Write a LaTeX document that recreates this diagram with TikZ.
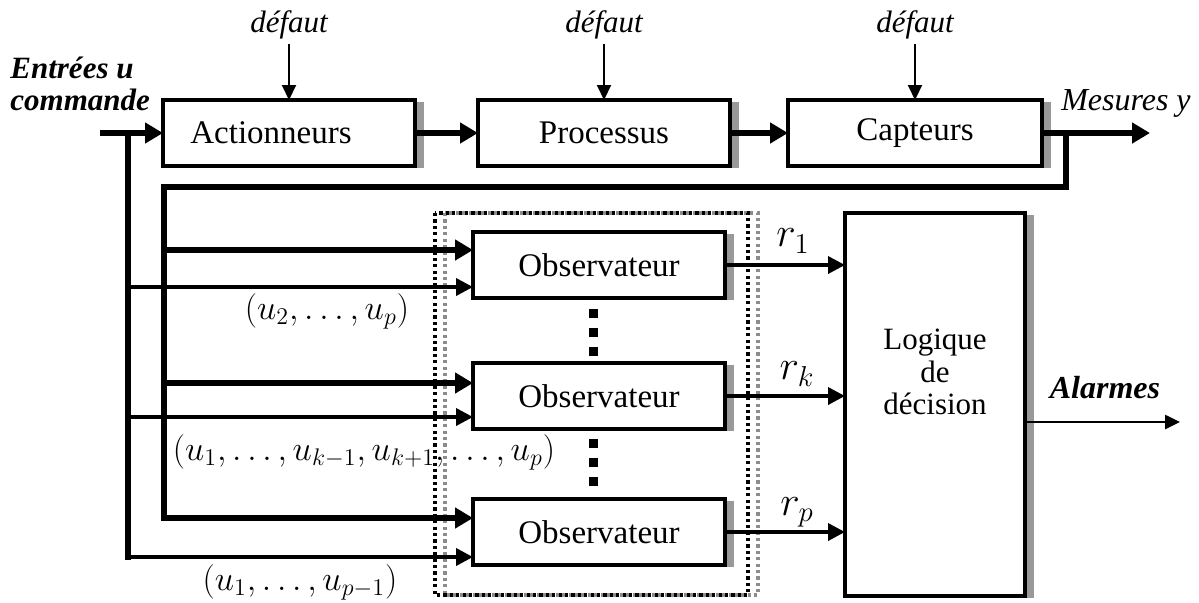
\documentclass[tikz,border=0pt]{standalone}
\usepackage{fontspec}
\setmainfont{Liberation Serif}
\usetikzlibrary{arrows.meta,calc}
\begin{document}
\begin{tikzpicture}[x=0.5pt,y=-0.5pt,
  box/.style={draw,fill=white,line width=1.8pt,minimum width=126pt,minimum height=33pt,inner sep=0pt,outer sep=0pt,font=\fontsize{16.5}{19}\selectfont},
  shadowc/.style={fill=black!40},
  arrbig/.style={line width=3.2pt,-{Triangle[length=9pt,width=10pt]}},
  busline/.style={line width=3.2pt,line cap=rect,line join=miter},
  arrmid/.style={line width=1.8pt,-{Triangle[length=8.5pt,width=8.5pt]}},
  arrthin/.style={line width=1pt,-{Triangle[length=7.5pt,width=7pt]}},
  itlbl/.style={font=\fontsize{15.5}{17}\selectfont\itshape,inner sep=2pt},
  bilbl/.style={font=\fontsize{15.5}{16}\selectfont\bfseries\itshape,inner sep=0pt},
  mlbl/.style={font=\fontsize{17.28}{20}\selectfont,inner sep=0pt},
  rlbl/.style={font=\fontsize{20.74}{24}\selectfont,inner sep=0pt},
  dotbox/.style={line width=1.6pt,dash pattern=on 1.6pt off 1.6pt},
]
\useasboundingbox (0,0) rectangle (1199,602);

% dotted group frame
\draw[dotbox,black!45] (445,213) rectangle (758,595);
\draw[dotbox] (435,213) rectangle (748,595);

% blocks
\node[box] (act) at (289,133) {Actionneurs\hspace*{18pt}};
\node[box] (proc) at (604,133) {Processus};
\node[box,minimum width=127pt] (capt) at (915,133) {Capteurs};
\node[box] (obs1) at (599,265) {Observateur};
\node[box] (obs2) at (599,396) {Observateur};
\node[box] (obs3) at (599,532) {Observateur};
\node[box,minimum width=90pt,minimum height=191.5pt] (dec) at (935,404.5) {};
\node[font=\fontsize{15.5}{16.3}\selectfont,align=center,inner sep=0pt] (dectxt) at (935,372) {Logique\\de\\décision};

\foreach \n in {act,proc,capt,obs1,obs2,obs3,dec}
  \fill[shadowc] ([xshift=0.9pt,yshift=-1pt]\n.north east) rectangle ([xshift=4.5pt,yshift=-1pt]\n.south east);

% faults
\node[itlbl] (d1) at (289,25) {défaut};
\node[itlbl] (d2) at (604,25) {défaut};
\node[itlbl] (d3) at (915,25) {défaut};
\draw[arrthin] (d1.south) -- (act.north);
\draw[arrthin] (d2.south) -- (proc.north);
\draw[arrthin] (d3.south) -- (capt.north);

% labels
\node[bilbl,anchor=west,align=left] (ent) at (10,84) {Entrées u\\commande};
\node[itlbl,font=\fontsize{16}{18}\selectfont\itshape] (mes) at (1126,103) {Mesures y};
\node[bilbl,font=\fontsize{16}{18}\selectfont\bfseries\itshape] (alm) at (1105,388) {Alarmes};
\node[mlbl] (l1) at (327,311) {$(u_2,\ldots,u_p)$};
\node[mlbl] (l2) at (364,452) {$(u_1,\ldots,u_{k-1},u_{k+1},\ldots,u_p)$};
\node[mlbl] (l3) at (300,582) {$(u_1,\ldots,u_{p-1})$};
\node[rlbl] (r1) at (793,241) {$r_1$};
\node[rlbl] (rk) at (797,374) {$r_k$};
\node[rlbl] (rp) at (797,512) {$r_p$};

% coordinates
\coordinate (uin) at (100,133);
\coordinate (ubus) at (128,133);
\coordinate (ubusend) at (128,557);
\coordinate (ytap) at (1066,133);
\coordinate (yout) at (1150,133);
\coordinate (ycorner) at (1066,187);
\coordinate (ybus) at (164,187);
\coordinate (ybusend) at (164,518);
\coordinate (alarm) at (1180,422);

% main chain
\draw[arrbig] (uin) -- (act.west);
\draw[arrbig] (act.east) -- (proc.west);
\draw[arrbig] (proc.east) -- (capt.west);
\draw[arrbig] (capt.east) -- (yout);
\draw[busline] (ytap) -- (ycorner) -- (ybus) -- (ybusend);
\draw[busline] (ubus) -- (ubusend);

% observer inputs
\draw[arrbig] (ybus |- 0,250) -- (obs1.west |- 0,250);
\draw[arrbig] (ybus |- 0,383) -- (obs2.west |- 0,383);
\draw[arrbig] (ybusend) -- (obs3.west |- ybusend);
\draw[arrmid] (ubus |- 0,287) -- (obs1.west |- 0,287);
\draw[arrmid] (ubus |- 0,417) -- (obs2.west |- 0,417);
\draw[arrmid] (ubusend) -- (obs3.west |- ubusend);

% residuals
\draw[arrmid] (obs1.east) -- (obs1.east -| dec.west);
\draw[arrmid] (obs2.east) -- (obs2.east -| dec.west);
\draw[arrmid] (obs3.east) -- (obs3.east -| dec.west);

% alarms
\draw[arrthin,line width=1.3pt] (dec.east |- alarm) -- (alarm);

% vertical dots
\foreach \y in {313,332,351,443,462,481}
  \fill (588.5,\y-4.5) rectangle (597.5,\y+4.5);
\end{tikzpicture}
\end{document}
